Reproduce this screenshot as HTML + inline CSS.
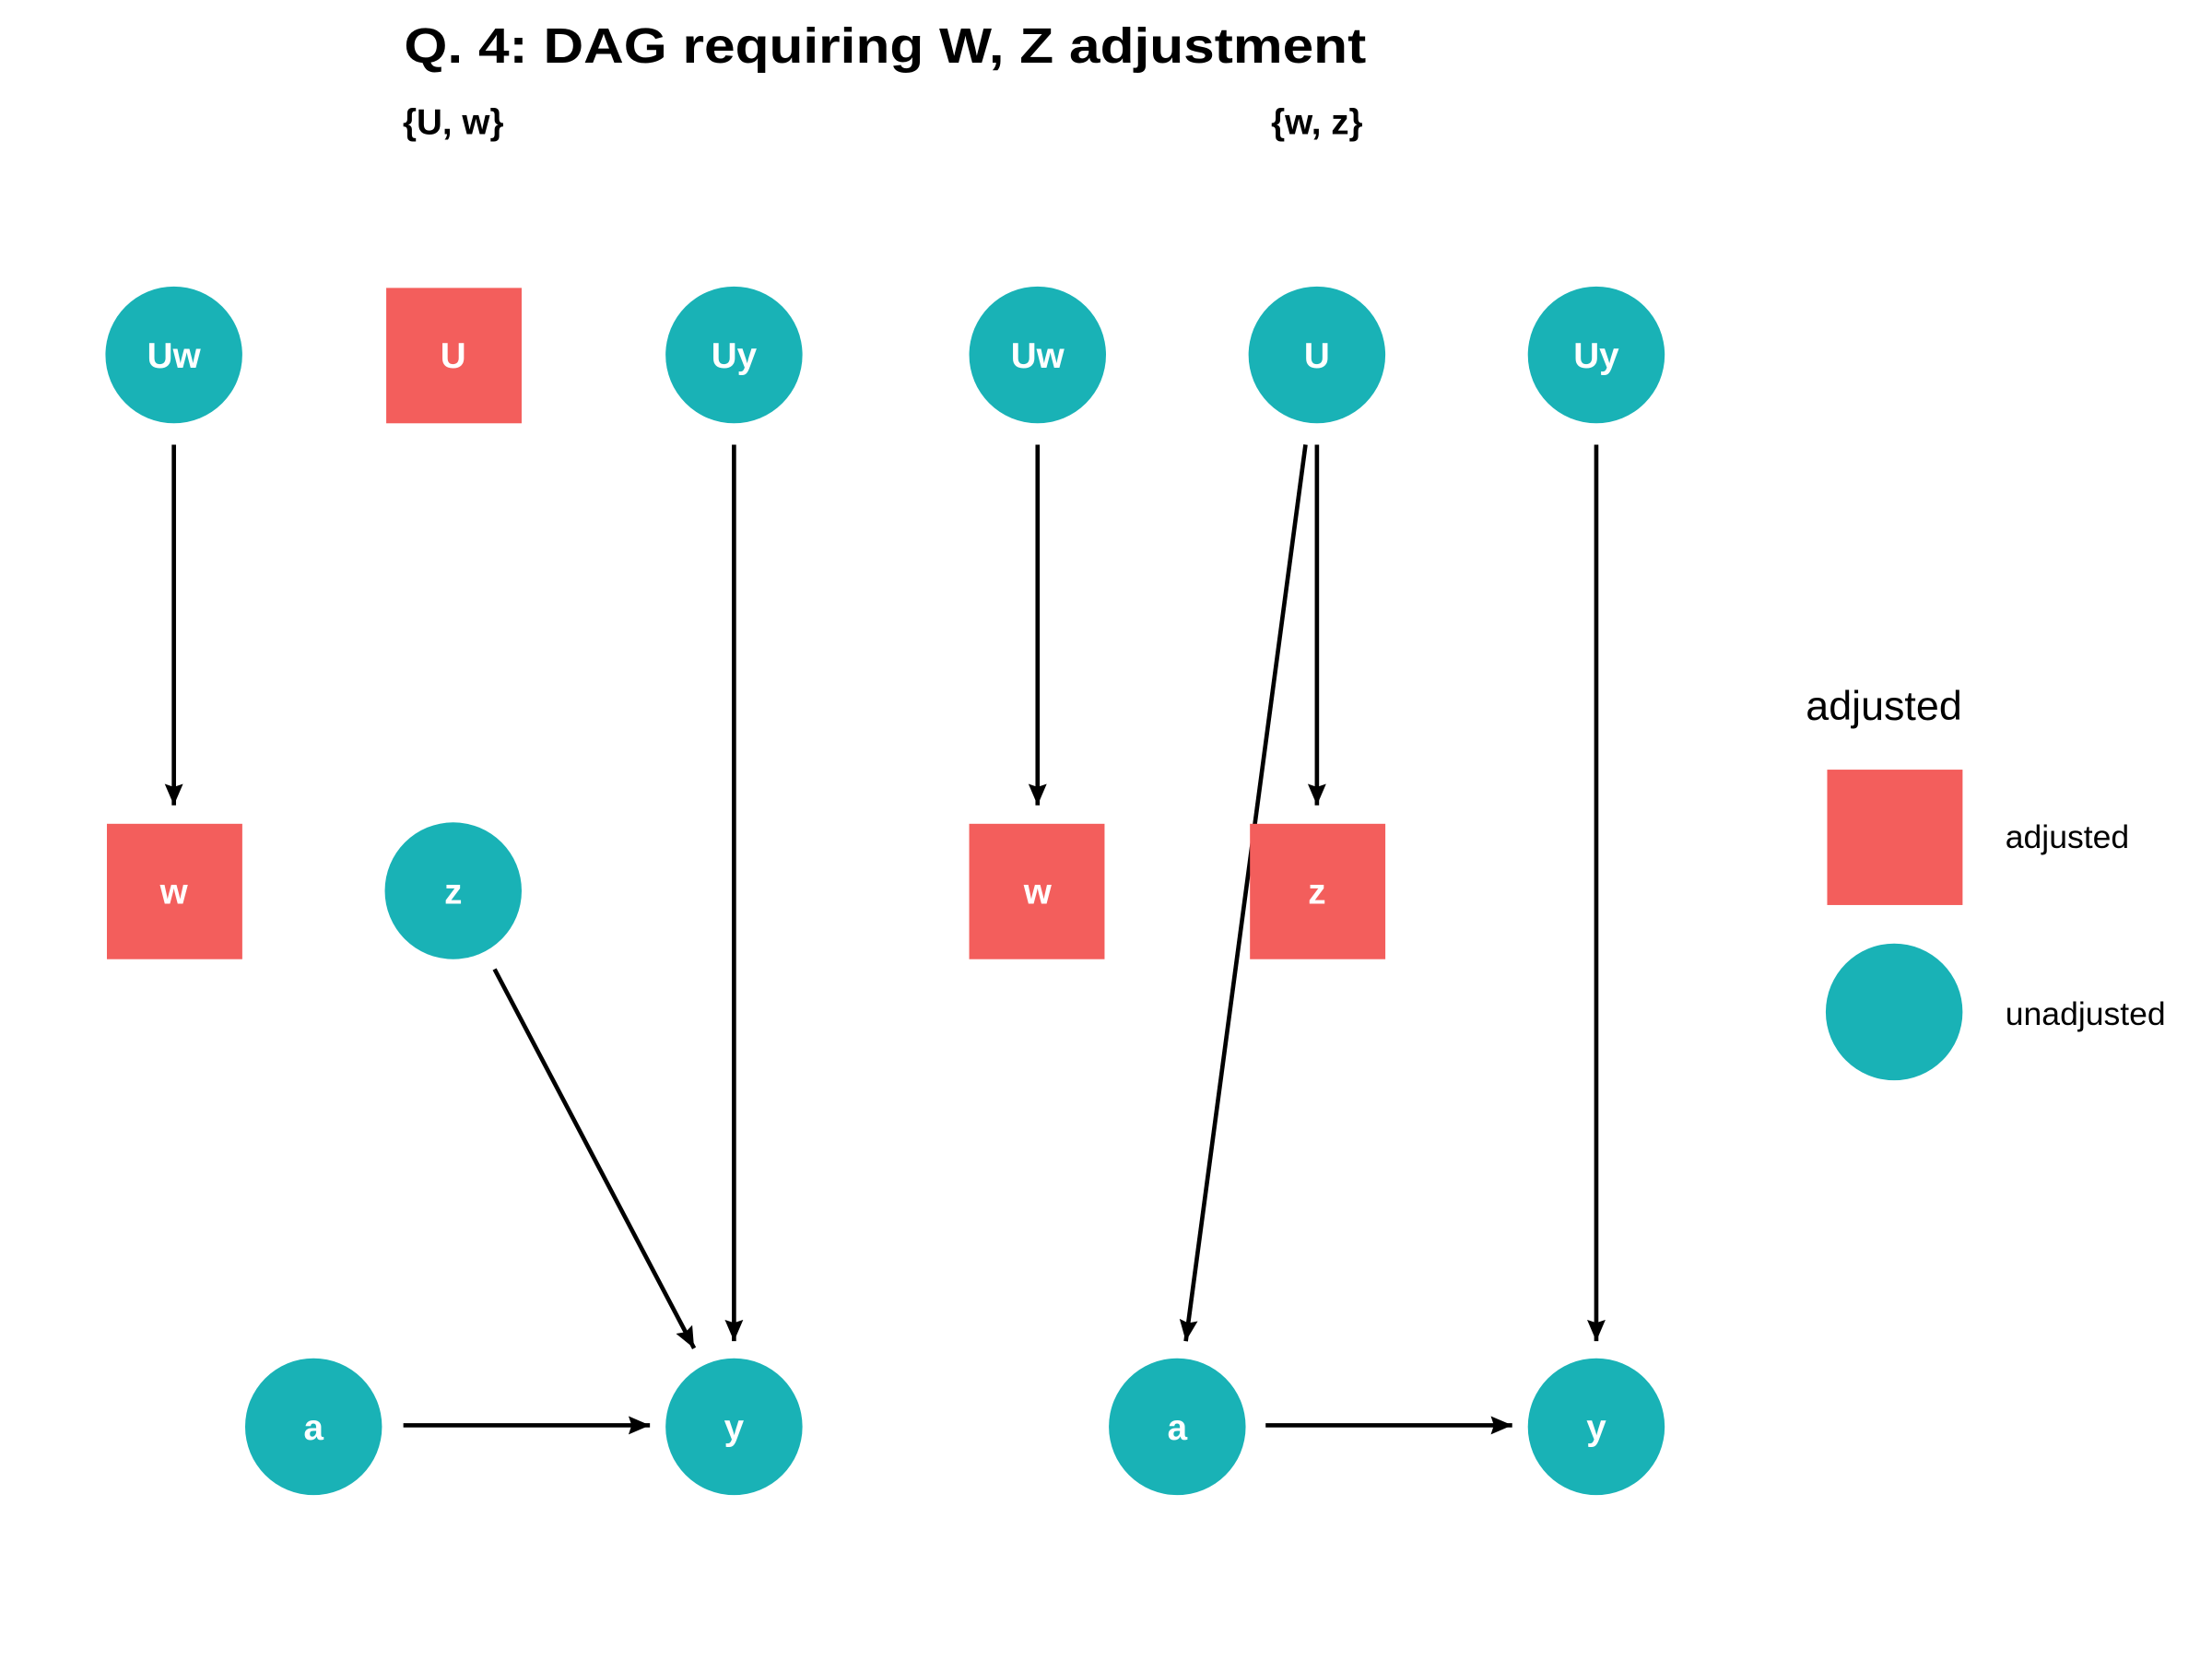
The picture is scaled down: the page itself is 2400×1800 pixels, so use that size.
<!DOCTYPE html>
<html><head><style>html,body{margin:0;padding:0;background:#fff}svg{display:block}</style></head>
<body>
<svg width="2400" height="1800" viewBox="0 0 1552 1164" preserveAspectRatio="none" xmlns="http://www.w3.org/2000/svg" font-family="Liberation Sans, Arial, sans-serif">
<defs>
<marker id="a" viewBox="0 0 14 14" refX="14" refY="7" markerWidth="15" markerHeight="15" orient="auto" markerUnits="userSpaceOnUse"><path d="M0,1 L14,7 L0,13 L2,7 z" fill="#000"/></marker></defs>
<text x="621" y="44" text-anchor="middle" font-size="35" font-weight="bold" textLength="675" lengthAdjust="spacingAndGlyphs">Q. 4: DAG requiring W, Z adjustment</text>
<text x="318" y="94" text-anchor="middle" font-size="25" font-weight="bold">{U, w}</text>
<text x="924" y="94" text-anchor="middle" font-size="25" font-weight="bold">{w, z}</text>
<g stroke="#000" stroke-width="3" fill="none" marker-end="url(#a)">
<line x1="122" y1="312" x2="122" y2="565"/>
<line x1="515" y1="312" x2="515" y2="941"/>
<line x1="347" y1="680" x2="487" y2="946"/>
<line x1="283" y1="1000" x2="456" y2="1000"/>
<line x1="728" y1="312" x2="728" y2="565"/>
<line x1="924" y1="312" x2="924" y2="565"/>
<line x1="916" y1="312" x2="832" y2="941"/>
<line x1="1120" y1="312" x2="1120" y2="941"/>
<line x1="888" y1="1000" x2="1061" y2="1000"/>
</g>
<g fill="#19B2B6">
<circle cx="122" cy="249" r="48"/><circle cx="515" cy="249" r="48"/>
<circle cx="318" cy="625" r="48"/><circle cx="220" cy="1001" r="48"/><circle cx="515" cy="1001" r="48"/>
<circle cx="728" cy="249" r="48"/><circle cx="924" cy="249" r="48"/><circle cx="1120" cy="249" r="48"/>
<circle cx="826" cy="1001" r="48"/><circle cx="1120" cy="1001" r="48"/>
<circle cx="1329" cy="710" r="48"/>
</g>
<g fill="#F35E5C">
<rect x="271" y="202" width="95" height="95"/>
<rect x="75" y="578" width="95" height="95"/>
<rect x="680" y="578" width="95" height="95"/>
<rect x="877" y="578" width="95" height="95"/>
<rect x="1282" y="540" width="95" height="95"/>
</g>
<g fill="#fff" font-size="25" font-weight="bold" text-anchor="middle">
<text x="122" y="258">Uw</text><text x="318" y="258">U</text><text x="515" y="258">Uy</text>
<text x="122" y="634">w</text><text x="318" y="634">z</text>
<text x="220" y="1010">a</text><text x="515" y="1010">y</text>
<text x="728" y="258">Uw</text><text x="924" y="258">U</text><text x="1120" y="258">Uy</text>
<text x="728" y="634">w</text><text x="924" y="634">z</text>
<text x="826" y="1010">a</text><text x="1120" y="1010">y</text>
</g>
<text x="1267" y="505" font-size="29">adjusted</text>
<text x="1407" y="595" font-size="23">adjusted</text>
<text x="1407" y="719" font-size="23">unadjusted</text>
</svg>
</body></html>
